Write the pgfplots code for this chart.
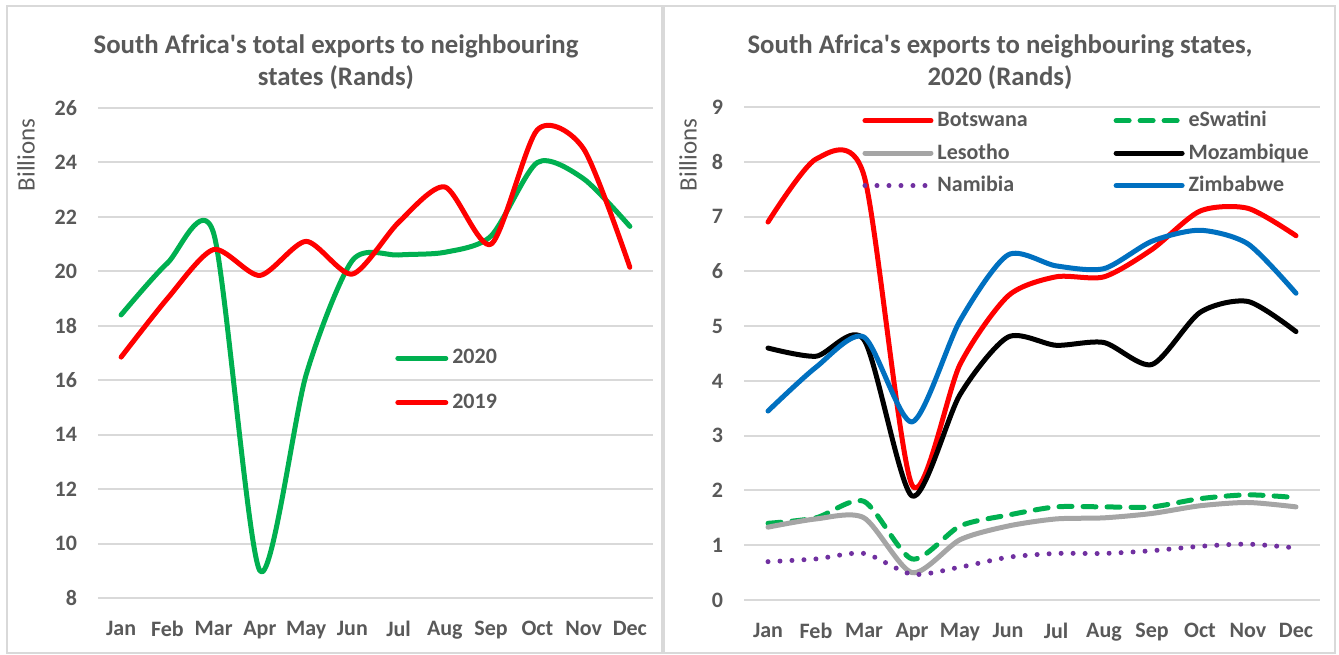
\documentclass[border=0pt]{standalone}
\usepackage{pgfplots}
\pgfplotsset{compat=1.18}
\usepackage{fontspec}
\setmainfont{Carlito}[Ligatures=TeXOff]
\definecolor{txt}{HTML}{595959}
\definecolor{gridc}{HTML}{D9D9D9}
\definecolor{xlgreen}{HTML}{00B050}
\definecolor{xlgray}{HTML}{A5A5A5}
\definecolor{xlpurple}{HTML}{7030A0}
\definecolor{xlblue}{HTML}{0070C0}
\pgfplotsset{
  xlbase/.style={
    scale only axis,
    anchor=south west,
    xmin=0.5, xmax=12.5,
    xtick={1,...,12},
    xticklabels={Jan,Feb,Mar,Apr,May,Jun,Jul,Aug,Sep,Oct,Nov,Dec},
    ymajorgrids, grid style={gridc, line width=1pt},
    axis line style={draw=none},
    major tick length=0pt,
    /pgf/number format/assume math mode=true,
    ticklabel style={font=\fontsize{11}{12}\selectfont\bfseries, text=txt},
    yticklabel style={xshift=-7pt},
    xticklabel style={yshift=-8pt},
    legend cell align=left,
    every axis plot/.append style={smooth, tension=0.45, line width=2.5pt, line cap=round, line join=round},
  },
}
\begin{document}
\begin{tikzpicture}
\useasboundingbox (0,0) rectangle (669.5pt,327pt);
\draw[gridc, line width=1pt] (3.5pt,0.5pt) rectangle (331pt,324pt);
\draw[gridc, line width=1pt] (332pt,0.5pt) rectangle (667.5pt,324pt);

% left panel
\node[text=txt, font=\fontsize{13.4}{16}\selectfont\bfseries, align=center] at (168pt,296pt)
  {South Africa's total exports to neighbouring\\states (Rands)};
\node[text=txt, font=\fontsize{12.5}{14}\selectfont, rotate=90] at (13pt,249.5pt) {Billions};
\begin{axis}[xlbase,
  at={(49pt,28pt)}, width=277.5pt, height=245pt,
  ymin=8, ymax=26, ytick={8,10,...,26},
  legend style={at={(axis description cs:0.535,0.516)}, anchor=north west,
    draw=none, fill=none, font=\fontsize{11}{12}\selectfont\bfseries, text=txt,
    row sep=9.5pt, inner sep=0pt},
  legend image code/.code={\draw[#1] (0pt,0pt) -- (24pt,0pt);},
]
\addplot[xlgreen] coordinates {
  (1,18.4) (2,20.3) (3,21.4) (4,9.0) (5,16.2) (6,20.4)
  (7,20.6) (8,20.7) (9,21.3) (10,24.0) (11,23.4) (12,21.65)
};
\addlegendentry{2020}
\addplot[red] coordinates {
  (1,16.85) (2,19.0) (3,20.8) (4,19.85) (5,21.1) (6,19.9)
  (7,21.8) (8,23.1) (9,21.0) (10,25.2) (11,24.5) (12,20.15)
};
\addlegendentry{2019}
\end{axis}

% right panel
\node[text=txt, font=\fontsize{13.4}{16}\selectfont\bfseries, align=center] at (500pt,296pt)
  {South Africa's exports to neighbouring states,\\2020 (Rands)};
\node[text=txt, font=\fontsize{12.5}{14}\selectfont, rotate=90] at (344pt,249.5pt) {Billions};
\begin{axis}[xlbase,
  at={(372pt,27pt)}, width=288pt, height=246.5pt,
  ymin=0, ymax=9, ytick={0,...,9},
  legend columns=2,
  legend style={at={(axis description cs:0.205,1.0)}, anchor=north west,
    draw=none, fill=none, font=\fontsize{11}{12}\selectfont\bfseries, text=txt,
    row sep=3pt, inner sep=0pt,
    /tikz/every even column/.append style={column sep=41pt}},
  legend image code/.code={\draw[#1] (0pt,0pt) -- (33pt,0pt);},
]
\addplot[red] coordinates {
  (1,6.9) (2,8.05) (3,7.75) (4,2.1) (5,4.3) (6,5.55)
  (7,5.9) (8,5.9) (9,6.4) (10,7.1) (11,7.15) (12,6.65)
};
\addlegendentry{Botswana}
\addplot[xlgreen, dash pattern=on 6.5pt off 5.5pt] coordinates {
  (1,1.4) (2,1.5) (3,1.8) (4,0.75) (5,1.35) (6,1.55)
  (7,1.7) (8,1.7) (9,1.7) (10,1.85) (11,1.92) (12,1.87)
};
\addlegendentry{eSwatini}
\addplot[xlgray] coordinates {
  (1,1.33) (2,1.48) (3,1.5) (4,0.5) (5,1.1) (6,1.35)
  (7,1.48) (8,1.5) (9,1.58) (10,1.72) (11,1.78) (12,1.7)
};
\addlegendentry{Lesotho}
\addplot[black] coordinates {
  (1,4.6) (2,4.45) (3,4.75) (4,1.9) (5,3.75) (6,4.8)
  (7,4.65) (8,4.7) (9,4.3) (10,5.25) (11,5.45) (12,4.9)
};
\addlegendentry{Mozambique}
\addplot[xlpurple, dash pattern=on 0pt off 6pt] coordinates {
  (1,0.7) (2,0.75) (3,0.85) (4,0.47) (5,0.6) (6,0.78)
  (7,0.85) (8,0.85) (9,0.9) (10,0.98) (11,1.02) (12,0.95)
};
\addlegendentry{Namibia}
\addplot[xlblue] coordinates {
  (1,3.45) (2,4.25) (3,4.8) (4,3.25) (5,5.1) (6,6.3)
  (7,6.1) (8,6.05) (9,6.55) (10,6.75) (11,6.5) (12,5.6)
};
\addlegendentry{Zimbabwe}
\end{axis}
\end{tikzpicture}
\end{document}
